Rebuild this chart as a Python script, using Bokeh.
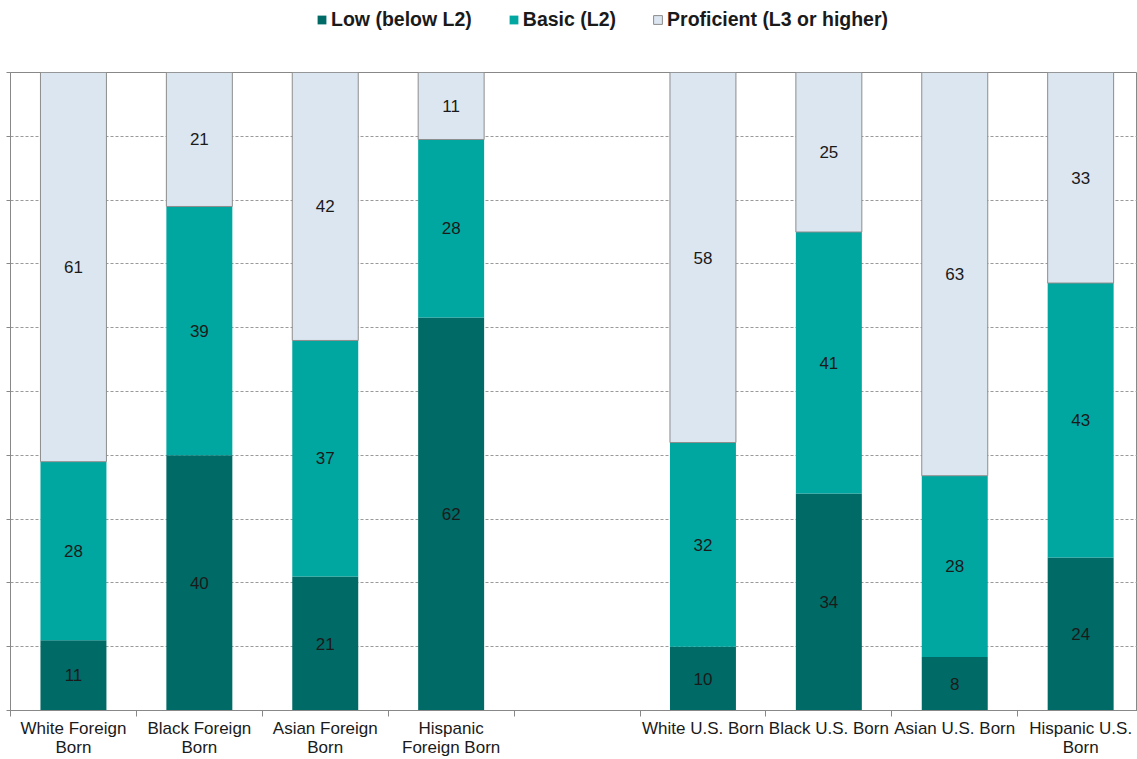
from bokeh.plotting import figure
from bokeh.models import ColumnDataSource, Legend, LegendItem, FixedTicker, Range1d
from bokeh.layouts import column
from bokeh.embed import file_html
from bokeh.resources import INLINE
from bokeh.core.properties import value

categories = ["White Foreign\nBorn", "Black Foreign\nBorn", "Asian Foreign\nBorn", "Hispanic\nForeign Born", "",
              "White U.S. Born", "Black U.S. Born", "Asian U.S. Born", "Hispanic U.S.\nBorn"]
# shares (%); labels show rounded values
low = [11, 40, 21, 61.6, None, 10, 34, 8.4, 24]
basic = [28, 39, 37, 27.9, None, 32, 41, 28.4, 43]
proficient = [61, 21, 42, 10.5, None, 58, 25, 63.2, 33]
series_names = ["Low (below L2)", "Basic (L2)", "Proficient (L3 or higher)"]
colors = ["#006A66", "#00A7A1", "#DCE6F1"]

FONT = "Liberation Sans"


def lbl(v):
    return str(int(v + 0.5))


xs, l1, b1, p1 = [], [], [], []
lv, bv, pv = [], [], []
for i, c in enumerate(categories):
    if low[i] is None:
        continue
    xs.append(i + 0.5)
    l1.append(low[i])
    b1.append(low[i] + basic[i])
    p1.append(low[i] + basic[i] + proficient[i])
    lv.append(low[i]); bv.append(basic[i]); pv.append(proficient[i])

src = ColumnDataSource(dict(
    x=xs, l0=[0] * len(xs), l1=l1, b1=b1, p1=p1,
    lmid=[a / 2 for a in l1],
    bmid=[(a + b) / 2 for a, b in zip(l1, b1)],
    pmid=[(a + b) / 2 for a, b in zip(b1, p1)],
    lt=[lbl(v) for v in lv], bt=[lbl(v) for v in bv], pt=[lbl(v) for v in pv],
))

W = 1137
LEG_H = 50
p = figure(width=W, height=759 - LEG_H, output_backend="svg", toolbar_location=None,
           x_range=Range1d(0, 1127 / 125.9), y_range=Range1d(0, 100),
           min_border_left=10, min_border_right=0, min_border_top=72 - LEG_H, min_border_bottom=48)

bw = 0.524
r_low = p.vbar(x="x", bottom="l0", top="l1", width=bw, source=src, fill_color=colors[0], line_color=None)
r_basic = p.vbar(x="x", bottom="l1", top="b1", width=bw, source=src, fill_color=colors[1], line_color=None)
r_prof = p.vbar(x="x", bottom="b1", top="p1", width=bw, source=src, fill_color=colors[2],
                line_color="#8C8C8C", line_width=1)

for ycol, tcol in [("lmid", "lt"), ("bmid", "bt"), ("pmid", "pt")]:
    p.text(x="x", y=ycol, text=tcol, source=src, text_align="center", text_baseline="middle",
           text_font=value(FONT), text_font_size="17px", text_color="#1a1a1a")

# axes
p.xaxis.ticker = FixedTicker(ticks=[i + 0.5 for i in range(len(categories))],
                             minor_ticks=list(range(len(categories) + 1)))
p.xaxis.major_label_overrides = {i + 0.5: c for i, c in enumerate(categories)}
p.xaxis.major_tick_line_color = None
p.xaxis.minor_tick_line_color = "#888888"
p.xaxis.minor_tick_out = 6
p.xaxis.minor_tick_in = 0
p.xaxis.axis_line_color = "#888888"
p.xaxis.major_label_text_font = FONT
p.xaxis.major_label_text_font_size = "17px"
p.xaxis.major_label_text_color = "#1a1a1a"
p.xaxis.major_label_text_line_height = 1.0
p.xaxis.major_label_standoff = 2

p.yaxis.ticker = FixedTicker(ticks=list(range(0, 101, 10)), minor_ticks=[])
p.yaxis.major_label_overrides = {v: "" for v in range(0, 101, 10)}
p.yaxis.major_label_standoff = 0
p.yaxis.major_tick_out = 4
p.yaxis.major_tick_in = 0
p.yaxis.major_tick_line_color = "#888888"
p.yaxis.axis_line_color = "#888888"

p.xgrid.grid_line_color = None
p.ygrid.grid_line_color = "#9A9A9A"
p.ygrid.grid_line_dash = "3 2"
p.ygrid.ticker = FixedTicker(ticks=list(range(10, 100, 10)))

p.outline_line_color = "#888888"
p.outline_line_width = 1

# legend strip above the chart (legend swatches use off-screen dummy bars)
lg = figure(width=W, height=LEG_H, output_backend="svg", toolbar_location=None,
            x_range=Range1d(0, 1), y_range=Range1d(0, 1),
            min_border_left=0, min_border_right=0, min_border_top=0, min_border_bottom=0)
lg.axis.visible = False
lg.grid.visible = False
lg.outline_line_color = None
d_low = lg.vbar(x=[5], bottom=[5], top=[6], width=0.1, fill_color=colors[0], line_color=None)
d_basic = lg.vbar(x=[5], bottom=[5], top=[6], width=0.1, fill_color=colors[1], line_color=None)
d_prof = lg.vbar(x=[5], bottom=[5], top=[6], width=0.1, fill_color=colors[2], line_color="#8C8C8C")

legend = Legend(items=[LegendItem(label=series_names[0], renderers=[d_low]),
                       LegendItem(label=series_names[1], renderers=[d_basic]),
                       LegendItem(label=series_names[2], renderers=[d_prof])],
                orientation="horizontal", location=(306, 19),
                label_text_font=FONT, label_text_font_size="19.5px", label_text_font_style="bold",
                label_text_color="#1a1a1a", glyph_width=11, glyph_height=11,
                spacing=36, label_standoff=4, border_line_color=None, background_fill_alpha=0,
                padding=0, margin=0)
lg.add_layout(legend, "center")

open("out.html", "w").write(file_html(column(lg, p, spacing=0), INLINE))
